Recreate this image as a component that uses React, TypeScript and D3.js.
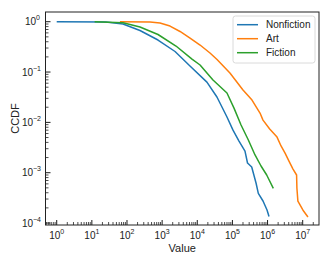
import React from "react";
import * as d3 from "d3";

const seriesNames = ["Nonfiction", "Art", "Fiction"];
const seriesColors = ["#1f77b4", "#ff7f0e", "#2ca02c"];

const nonfictionX = [1, 25, 77, 234, 763, 2330, 6200, 18800, 36300, 70000, 104000, 154000, 228000, 269000, 354000, 470000, 546000, 743000, 966000, 1100000];
const nonfictionY = [1, 0.99, 0.9, 0.67, 0.433, 0.256, 0.132, 0.063, 0.0319, 0.0128, 0.007, 0.00426, 0.00269, 0.00156, 0.0013, 0.000624, 0.000389, 0.000274, 0.000181, 0.000135];

const artX = [63, 452, 870, 1675, 3230, 6230, 12000, 23000, 36500, 85000, 200000, 361000, 610000, 742000, 1150000, 1860000, 2420000, 3150000, 4070000, 5300000, 6700000, 6840000, 7300000, 10200000, 14100000];
const artY = [1, 0.99, 0.94, 0.82, 0.64, 0.474, 0.344, 0.239, 0.177, 0.0957, 0.044, 0.0278, 0.0153, 0.0111, 0.0074, 0.0051, 0.0034, 0.00245, 0.0017, 0.00118, 0.0009, 0.000497, 0.000273, 0.00018, 0.000132];

const fictionX = [12, 77, 234, 763, 2480, 7080, 12000, 28000, 70000, 111000, 176000, 284000, 440000, 652000, 946000, 1460000];
const fictionY = [1, 0.95, 0.785, 0.557, 0.329, 0.181, 0.138, 0.0695, 0.0383, 0.0192, 0.00887, 0.00447, 0.00225, 0.00136, 0.0009, 0.00049];

const xTickExps = [0, 1, 2, 3, 4, 5, 6, 7];
const yTickExps = [0, -1, -2, -3, -4];

const W = 332, H = 266;
const L = 45.5, R = 319, T = 12, B = 225;

export default function App() {
  const x = d3.scaleLog().domain([Math.pow(10, -0.319), Math.pow(10, 7.464)]).range([L, R]);
  const y = d3.scaleLog().domain([Math.pow(10, -4.039), Math.pow(10, 0.193)]).range([B, T]);
  const line = d3.line<[number, number]>().x(d => x(d[0])).y(d => y(d[1]));
  const series = [
    { name: seriesNames[0], color: seriesColors[0], xs: nonfictionX, ys: nonfictionY },
    { name: seriesNames[1], color: seriesColors[1], xs: artX, ys: artY },
    { name: seriesNames[2], color: seriesColors[2], xs: fictionX, ys: fictionY },
  ];
  const [xd0, xd1] = x.domain();
  const [yd0, yd1] = y.domain();
  const xMinor: number[] = [];
  for (let e = -1; e <= 8; e++) for (let m = 2; m <= 9; m++) { const v = m * Math.pow(10, e); if (v > xd0 && v < xd1) xMinor.push(v); }
  const yMinor: number[] = [];
  for (let e = -5; e <= 1; e++) for (let m = 2; m <= 9; m++) { const v = m * Math.pow(10, e); if (v > yd0 && v < yd1) yMinor.push(v); }
  const font = "'Liberation Sans', Arial, sans-serif";
  return (
    <svg width={W} height={H} style={{ position: "absolute", left: 0, top: 0, background: "#fff" }} fontFamily={font}>
      <rect x={0} y={0} width={W} height={H} fill="#fff" />
      <defs>
        <clipPath id="clip"><rect x={L} y={T} width={R - L} height={B - T} /></clipPath>
      </defs>
      <g clipPath="url(#clip)">
        {series.map(s => (
          <path key={s.name} d={line(s.xs.map((v, i) => [v, s.ys[i]] as [number, number])) || ""} fill="none" stroke={s.color} strokeWidth={1.5} strokeLinejoin="round" />
        ))}
      </g>
      {xTickExps.map(e => (
        <g key={"xt" + e}>
          <line x1={x(Math.pow(10, e))} x2={x(Math.pow(10, e))} y1={B} y2={B - 5} stroke="#000" strokeWidth={0.9} />
          <text x={x(Math.pow(10, e))} y={239} fontSize={10} textAnchor="middle" fill="#222">
            10<tspan dy={-5} fontSize={7}>{e}</tspan>
          </text>
        </g>
      ))}
      {xMinor.map((v, i) => (
        <line key={"xm" + i} x1={x(v)} x2={x(v)} y1={B} y2={B - 3} stroke="#000" strokeWidth={0.7} />
      ))}
      {yTickExps.map(e => (
        <g key={"yt" + e}>
          <line x1={L} x2={L + 5} y1={y(Math.pow(10, e))} y2={y(Math.pow(10, e))} stroke="#000" strokeWidth={0.9} />
          <text x={e < 0 ? 33 : 36} y={y(Math.pow(10, e)) + 3.5} fontSize={10} textAnchor="end" fill="#222">
            10
          </text>
          <text x={e < 0 ? 33 : 36} y={y(Math.pow(10, e)) - 1.5} fontSize={7} textAnchor="start" fill="#222">{e < 0 ? "\u2212" + Math.abs(e) : e}</text>
        </g>
      ))}
      {yMinor.map((v, i) => (
        <line key={"ym" + i} x1={L} x2={L + 3} y1={y(v)} y2={y(v)} stroke="#000" strokeWidth={0.7} />
      ))}
      <rect x={L} y={T} width={R - L} height={B - T} fill="none" stroke="#222" strokeWidth={1} />
      <text x={(L + R) / 2} y={252} fontSize={11} textAnchor="middle" fill="#222">Value</text>
      <text transform={`translate(19,${(T + B) / 2}) rotate(-90)`} fontSize={11} textAnchor="middle" fill="#222">CCDF</text>
      <rect x={233} y={16} width={82} height={47} rx={2.5} fill="#fff" fillOpacity={0.8} stroke="#d0d0d0" strokeWidth={0.8} />
      {series.map((s, i) => (
        <g key={"lg" + i}>
          <line x1={237} x2={258} y1={24.7 + i * 14} y2={24.7 + i * 14} stroke={s.color} strokeWidth={1.5} />
          <text x={266} y={24.7 + i * 14 + 3.6} fontSize={10} fill="#222">{s.name}</text>
        </g>
      ))}
    </svg>
  );
}
